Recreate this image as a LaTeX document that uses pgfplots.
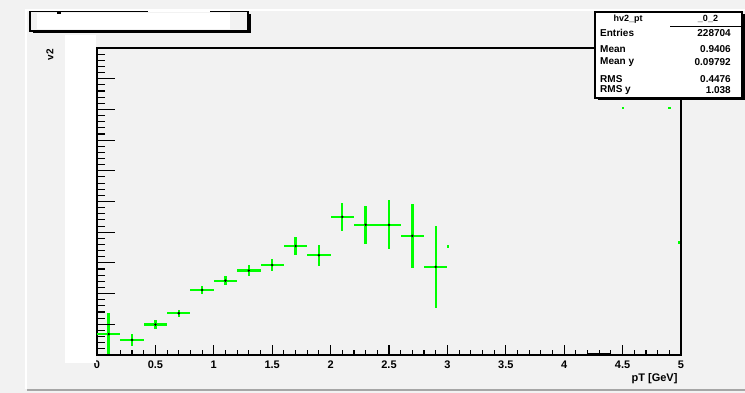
\documentclass[border=0pt]{standalone}
\usepackage{pgfplots}
\pgfplotsset{compat=1.18}
\usepackage{pgfplotstable}
\usepackage{fontspec}
\setmainfont{Liberation Sans}

\definecolor{padgray}{RGB}{242,242,242}
\definecolor{rootgreen}{RGB}{0,255,0}

% v2 versus pT, bin centres with half-bin-width and statistical errors
\pgfplotstableread{
x   y     ex   ey
0.1 0.068 0.1 0.068
0.3 0.049 0.1 0.020
0.5 0.099 0.1 0.015
0.7 0.136 0.1 0.011
0.9 0.212 0.1 0.014
1.1 0.242 0.1 0.015
1.3 0.275 0.1 0.017
1.5 0.293 0.1 0.021
1.7 0.355 0.1 0.028
1.9 0.325 0.1 0.034
2.1 0.450 0.1 0.046
2.3 0.424 0.1 0.062
2.5 0.424 0.1 0.080
2.7 0.388 0.1 0.103
2.9 0.287 0.1 0.134
}\vtwo

\newcommand{\tickfont}{\fontsize{11}{13}\selectfont\bfseries}
\newcommand{\statfont}{\fontsize{10}{12}\selectfont\bfseries}

\begin{document}
\begin{tikzpicture}[x=1pt,y=1pt]
\useasboundingbox (0,0) rectangle (745,393);
\fill[padgray] (0,0) rectangle (745,393);
% pad bevel
\draw[white,line width=1.5pt] (26,4) -- (26,383) -- (745,383);
\draw[black!35,line width=2pt] (27,3) -- (745,3);

% main frame with x ticks and the data
\begin{axis}[
  at={(97pt,38pt)}, anchor=south west, scale only axis,
  width=584pt, height=307pt,
  xmin=0, xmax=5, ymin=0, ymax=1,
  axis line style={line width=1.4pt},
  axis background/.style={fill=padgray},
  tick align=inside,
  xtick={0,0.5,1,1.5,2,2.5,3,3.5,4,4.5,5},
  xticklabels={0,0.5,1,1.5,2,2.5,3,3.5,4,4.5,5},
  minor x tick num=4,
  xtick pos=left, ytick=\empty,
  major tick length=10pt, minor tick length=5pt,
  every tick/.style={black,line width=1.1pt},
  xticklabel style={font=\tickfont,anchor=base,yshift=-14pt,inner sep=0pt},
  clip=false,
]
\addplot[black,line width=2.5pt] coordinates {(4.2,0.002) (4.4,0.002)};
\addplot[only marks, mark=*, mark size=1pt, black,
  error bars/.cd, x dir=both, x explicit, y dir=both, y explicit,
  error mark=none, error bar style={rootgreen,line width=2.4pt}]
  table[x=x,y=y,x error=ex,y error=ey]{\vtwo};
\addplot[only marks, mark=square*, mark size=0.7pt, rootgreen]
  coordinates {(3.0,0.355) (4.5,0.805) (4.9,0.805) (4.98,0.368)};
\end{axis}

% y ticks on the left edge
\begin{axis}[
  at={(97pt,38pt)}, anchor=south west, scale only axis,
  width=584pt, height=307pt,
  xmin=0, xmax=5, ymin=0, ymax=1,
  axis line style={draw=none},
  tick align=inside,
  xtick=\empty,
  ytick={0,0.1,0.2,0.3,0.4,0.5,0.6,0.7,0.8,0.9,1},
  yticklabels={},
  minor y tick num=4,
  ytick pos=left,
  major tick length=18pt, minor tick length=8pt,
  every tick/.style={black,line width=1.1pt},
]
\end{axis}

% blank band to the left of the frame
\fill[white] (64.5,30) rectangle (96.2,358);

% axis titles
\node[rotate=90,font=\fontsize{10}{12}\selectfont\bfseries] at (50,338) {v2};
\node[anchor=base east,font=\tickfont] at (681,11) {pT [GeV]};

% title box
\fill[black] (32.5,359.5) rectangle (250.5,379);
\filldraw[fill=padgray,draw=black,line width=1.2pt] (30,362) rectangle (248,381.3);
\fill[white] (37,364) rectangle (230,379.5);
\draw[white,line width=1.5pt] (148,381.3) -- (210,381.3);
\fill[black] (57,379) rectangle (61,381.8);

% statistics box
\fill[black] (597.5,292.5) rectangle (744.5,378.5);
\filldraw[fill=white,draw=black,line width=1.2pt] (595,295) rectangle (742,381);
\draw[line width=1pt] (670,366) -- (742,366);
\node[font=\fontsize{9}{10}\selectfont\bfseries] at (628,374) {hv2\_pt};
\node[font=\fontsize{9}{10}\selectfont\bfseries] at (708,374) {\_0\_2};
\begin{scope}[every node/.style={font=\statfont,inner sep=0pt}]
\node[anchor=west] at (600,360) {Entries};
\node[anchor=east] at (731,360) {228704};
\node[anchor=west] at (600,344) {Mean};
\node[anchor=east] at (731,344) {0.9406};
\node[anchor=west] at (600,331) {Mean y};
\node[anchor=east] at (731,331) {0.09792};
\node[anchor=west] at (600,314) {RMS};
\node[anchor=east] at (731,314) {0.4476};
\node[anchor=west] at (600,303) {RMS y};
\node[anchor=east] at (731,303) {1.038};
\end{scope}
\end{tikzpicture}
\end{document}
